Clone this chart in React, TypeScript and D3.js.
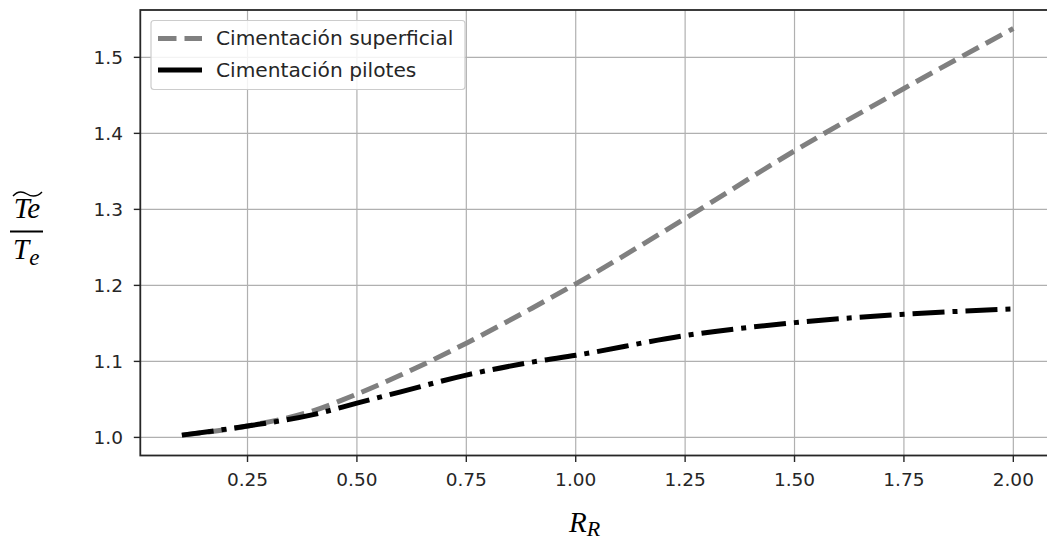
import React from "react";
import * as d3 from "d3";

const rr = [0.1, 0.25, 0.4, 0.5, 0.6, 0.75, 0.9, 1.0, 1.25, 1.5, 1.75, 2.0];
const superficial = [1.003, 1.015, 1.035, 1.057, 1.082, 1.124, 1.17, 1.202, 1.288, 1.377, 1.459, 1.538];
const pilotes = [1.003, 1.015, 1.03, 1.045, 1.06, 1.082, 1.099, 1.108, 1.134, 1.151, 1.162, 1.169];
const xTicks = [0.25, 0.5, 0.75, 1.0, 1.25, 1.5, 1.75, 2.0];
const yTicks = [1.0, 1.1, 1.2, 1.3, 1.4, 1.5];
const legendLabels = ["Cimentación superficial", "Cimentación pilotes"];

const W = 1047;
const H = 544;

export default function App() {
  const x = d3.scaleLinear().domain([0.005, 2.095]).range([140.3, 1054.9]);
  const y = d3.scaleLinear().domain([0.9762, 1.5623]).range([455.5, 10]);
  const [x0, x1] = x.range();
  const [yb, yt] = y.range();

  const line = d3
    .line<number>()
    .x((_, i) => x(rr[i]))
    .curve(d3.curveMonotoneX);

  const supPath = line.y((d) => y(d))(superficial) || "";
  const pilPath = line.y((d) => y(d))(pilotes) || "";

  const tickFont = { fontFamily: "DejaVu Sans", fontSize: 18.5, fill: "#262626" } as const;

  return (
    <svg
      width={W}
      height={H}
      style={{ position: "absolute", left: 0, top: 0, background: "#fff" }}
    >
      <rect x={0} y={0} width={W} height={H} fill="#fff" />
      {/* grid */}
      {xTicks.map((t) => (
        <line key={"gx" + t} x1={x(t)} x2={x(t)} y1={yb} y2={yt} stroke="#b0b0b0" strokeWidth={1.2} />
      ))}
      {yTicks.map((t) => (
        <line key={"gy" + t} x1={x0} x2={x1} y1={y(t)} y2={y(t)} stroke="#b0b0b0" strokeWidth={1.2} />
      ))}
      {/* series */}
      <path d={supPath} fill="none" stroke="#808080" strokeWidth={5} strokeDasharray="18.5 8" />
      <path d={pilPath} fill="none" stroke="#000" strokeWidth={5} strokeDasharray="32 8 5 8" />
      {/* frame */}
      <rect x={x0} y={yt} width={x1 - x0} height={yb - yt} fill="none" stroke="#262626" strokeWidth={1.8} />
      {/* x ticks */}
      {xTicks.map((t) => (
        <g key={"xt" + t}>
          <line x1={x(t)} x2={x(t)} y1={yb} y2={yb + 6.5} stroke="#262626" strokeWidth={1.4} />
          <text x={x(t)} y={486} textAnchor="middle" {...tickFont}>
            {t.toFixed(2)}
          </text>
        </g>
      ))}
      {/* y ticks */}
      {yTicks.map((t) => (
        <g key={"yt" + t}>
          <line x1={x0 - 6.5} x2={x0} y1={y(t)} y2={y(t)} stroke="#262626" strokeWidth={1.4} />
          <text x={123} y={y(t)} dy="0.36em" textAnchor="end" {...tickFont}>
            {t.toFixed(1)}
          </text>
        </g>
      ))}
      {/* legend */}
      <g>
        <rect x={151} y={20.5} width={314} height={69} rx={3} fill="#fff" fillOpacity={0.85} stroke="#cccccc" strokeWidth={1.2} />
        <line x1={158} x2={202} y1={38.5} y2={38.5} stroke="#808080" strokeWidth={5} strokeDasharray="18.5 8" />
        <line x1={158} x2={202} y1={70} y2={70} stroke="#000" strokeWidth={5} />
        <text x={216} y={45} fontFamily="DejaVu Sans" fontSize={20.2} fill="#262626">
          {legendLabels[0]}
        </text>
        <text x={216} y={77} fontFamily="DejaVu Sans" fontSize={20.2} fill="#262626">
          {legendLabels[1]}
        </text>
      </g>
      {/* y label: fraction */}
      <g fontFamily="Liberation Serif" fontStyle="italic" fontSize={29} fill="#000">
        <text x={27} y={218} textAnchor="middle">Te</text>
        <path d="M 13 196 Q 19 189 27 194 T 42 192" fill="none" stroke="#000" strokeWidth={1.4} />
        <line x1={10} x2={43} y1={231.5} y2={231.5} stroke="#000" strokeWidth={2.2} />
        <text x={13} y={259}>
          T<tspan fontSize={23} dy={6}>e</tspan>
        </text>
      </g>
      {/* x label */}
      <g fontFamily="Liberation Serif" fontStyle="italic" fill="#000">
        <text x={569} y={532} fontSize={29}>
          R<tspan fontSize={22} dy={4}>R</tspan>
        </text>
      </g>
    </svg>
  );
}
